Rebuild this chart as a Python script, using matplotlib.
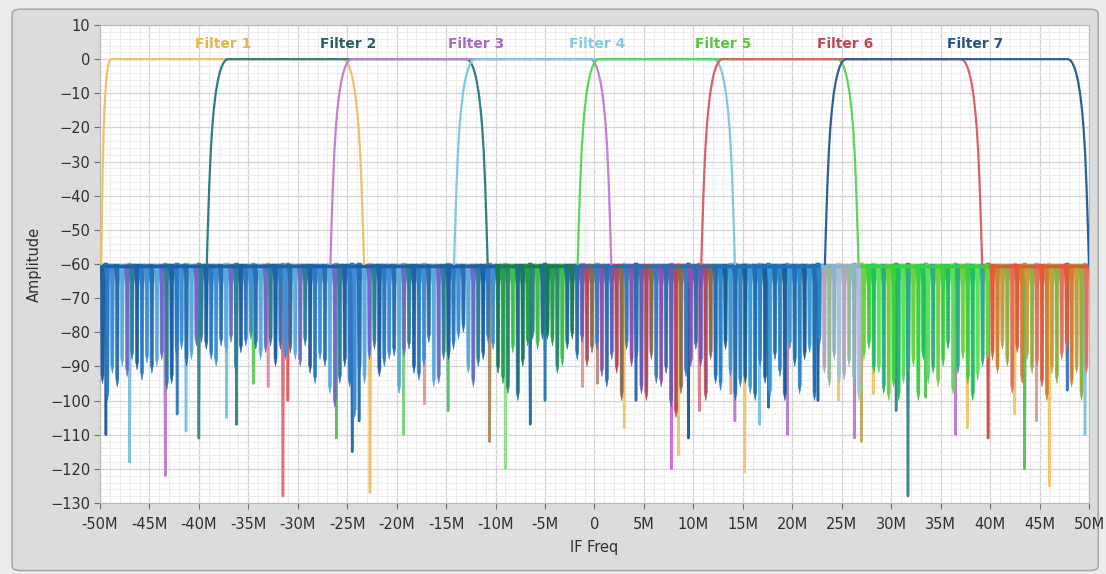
import matplotlib.pyplot as plt
import numpy as np
from matplotlib.patches import FancyBboxPatch
from matplotlib.ticker import MultipleLocator, FuncFormatter

# filters: passband edges in MHz
filter_names = ["Filter 1", "Filter 2", "Filter 3", "Filter 4", "Filter 5", "Filter 6", "Filter 7"]
filter_colors = ["#e9c46a", "#2f7f80", "#c47fd6", "#7fc9e2", "#5ad65a", "#d9606c", "#2b5f9b"]
label_colors = ["#e2b84e", "#2a5f60", "#a868c4", "#86cbe2", "#5cc43e", "#c04656", "#2c5282"]
pass_lo = [-49.1, -37.5, -25.0, -12.5, 0.0, 12.5, 25.0]
pass_hi = [-25.0, -12.5, 0.0, 12.5, 25.0, 37.5, 48.3]
lo_width = [0.45, 1, 1, 1, 1, 1, 1]
label_x = [-37.5, -24.9, -12.0, 0.3, 13.0, 25.3, 38.5]

# transition shape outside a band edge (MHz beyond edge -> dB)
edge_offset = [-0.4, -0.2, 0.0, 0.2, 0.4, 0.6, 0.8, 1.0, 1.15, 1.3, 1.45, 1.6, 1.7]
edge_db = [0, -0.3, -1, -2.2, -4, -6.5, -10, -15, -20, -27, -37, -50, -60]

# stopband notches (clipped at -60 dB), two per MHz from -49.75M
main_depths = [
    -95, -100, -92, -96, -90, -93, -88, -91, -94, -89,
    -92, -90, -88, -97, -95, -87, -85, -90, -88, -84,
    -83, -85, -88, -90, -84, -86, -83, -92, -86, -84,
    -82, -85, -88, -86, -84, -90, -85, -88, -86, -88,
    -90, -84, -92, -95, -88, -90, -98, -102, -95, -90,
    -96, -105, -92, -95, -88, -85, -93, -90, -88, -87,
    -98, -87, -85, -92, -94, -90, -83, -96, -95, -88,
    -88, -85, -82, -80, -92, -96, -90, -88, -83, -85,
    -92, -95, -98, -86, -100, -90, -84, -82, -85, -82,
    -82, -84, -92, -90, -85, -82, -88, -83, -90, -86,
    -85, -93, -96, -88, -92, -100, -85, -90, -88, -98,
    -100, -88, -95, -96, -92, -102, -105, -98, -93, -90,
    -85, -90, -100, -88, -95, -97, -85, -93, -100, -96,
    -95, -98, -100, -90, -95, -99, -88, -93, -100, -85,
    -90, -98, -88, -86, -100, -84, -92, -96, -88, -95,
    -94, -90, -95, -100, -88, -85, -92, -92, -98, -100,
    -96, -100, -95, -92, -90, -100, -88, -95, -92, -96,
    -90, -85, -98, -92, -88, -95, -100, -94, -90, -88,
    -88, -92, -85, -90, -98, -86, -95, -88, -92, -90,
    -96, -100, -92, -95, -88, -85, -96, -92, -100, -92,
]

band_edges = [-50, -10, -2, 12, 23, 27, 40, 50]
band_palettes = [
    ["#1f5fa5", "#2b7bc4", "#3f8fd6", "#2a6fb0", "#5aaade", "#6c6cc8", "#2a7f9a"],
    ["#1a7a5a", "#22a04a", "#2a8a70", "#3cc04a", "#1f6f8f"],
    ["#2a6fb0", "#6a5ab8", "#b04a60", "#8a6a50", "#3a7ac0", "#9050b0"],
    ["#1f6fb5", "#2b85c8", "#1a5f9a", "#3a9ad8"],
    ["#8fb0cc", "#a4c4d4", "#b4a4c4", "#94bc94"],
    ["#3ad040", "#20c060", "#5ae05a", "#28b080", "#70d040"],
    ["#e05a3a", "#d08030", "#c0a040", "#90b040", "#e07060"],
]

# deeper isolated notches: (MHz, dB, colour)
spikes = [
    (-49.4, -110, "#2a5f9e"), (-47.0, -118, "#7fc4e0"), (-43.4, -122, "#c080d0"),
    (-42.2, -104, "#3a7ac0"), (-41.3, -109, "#7fc4e0"), (-40.0, -111, "#3d8a8a"),
    (-37.2, -105, "#7fc4e0"), (-36.2, -107, "#3d8a8a"), (-34.5, -95, "#60d060"),
    (-33.0, -96, "#e090a0"), (-31.5, -128, "#e07080"), (-31.0, -100, "#e06060"),
    (-26.1, -111, "#60c060"), (-24.5, -115, "#2a6fb0"), (-23.8, -106, "#2a6fb0"),
    (-22.7, -127, "#f0c060"), (-19.3, -110, "#80d080"), (-17.2, -101, "#e0a0a0"),
    (-14.8, -103, "#60c070"), (-10.6, -112, "#b09060"), (-9.0, -120, "#90e090"),
    (-6.5, -107, "#2a6fb0"), (-5.0, -100, "#2a7fb0"), (-1.2, -96, "#e0a0a0"),
    (0.3, -95, "#c09080"), (3.0, -108, "#f0c870"), (4.2, -100, "#2a6fb0"),
    (7.8, -120, "#d070d0"), (8.5, -116, "#f0c870"), (9.5, -111, "#2a5f9e"),
    (10.6, -103, "#e08090"), (13.8, -98, "#e0a0a0"), (14.2, -106, "#c080d0"),
    (15.2, -121, "#f0c870"), (16.7, -107, "#7fc4e0"), (17.6, -102, "#2a6fb0"),
    (19.5, -110, "#c080d0"), (22.6, -100, "#2a5f9e"), (24.7, -100, "#f0c870"),
    (26.3, -111, "#c080d0"), (27.0, -112, "#c0b060"), (28.2, -98, "#f0c870"),
    (30.5, -103, "#3d8a8a"), (31.7, -128, "#3d8a8a"), (33.5, -99, "#60c060"),
    (36.5, -110, "#c080d0"), (37.7, -108, "#f0c870"), (39.8, -111, "#d05050"),
    (42.5, -104, "#f0c870"), (43.5, -120, "#60c060"), (44.7, -106, "#e0a0a0"),
    (46.0, -125, "#f0c870"), (47.8, -97, "#3a7ac0"), (49.6, -110, "#7fc4e0"),
]

fig = plt.figure(figsize=(11.06, 5.74), dpi=100)
fig.patch.set_facecolor("#ececec")
panel = FancyBboxPatch((0.011, 0.006), 0.982, 0.978, transform=fig.transFigure,
                       boxstyle="round,pad=0,rounding_size=0.008",
                       facecolor="#dcdcdc", edgecolor="#a9a9a9", lw=1.2, zorder=-10)
fig.patches.append(panel)

ax = fig.add_axes([0.0904, 0.1237, 0.8942, 0.8327])
ax.set_zorder(1)
ax.set_facecolor("white")

# stopband: deep spikes first, dense notch band over them
for x, d, c in spikes:
    ax.plot([x - 0.1, x, x + 0.1], [-60, d, -60], color=c, lw=1.8, zorder=2)

dip_x = np.linspace(-49.75, 49.75, len(main_depths))
for j, (x, d) in enumerate(zip(dip_x, main_depths)):
    k = min(np.searchsorted(band_edges, x) - 1, len(band_palettes) - 1)
    pal = band_palettes[k]
    c = pal[j % len(pal)]
    px = [x - 0.3, x - 0.19, x - 0.15, x, x + 0.15, x + 0.19, x + 0.3]
    py = [-60, -66, d + 2.5, d, d + 2.5, -66, -60]
    ax.fill(px, py, color=c, lw=0.4, ec=c, zorder=3)

for k in range(len(band_palettes)):
    ax.plot([band_edges[k], band_edges[k + 1]], [-60.6, -60.6],
            color=band_palettes[k][0], lw=2.5, zorder=3)

# passbands
off = np.array(edge_offset)
db = np.array(edge_db)
for i in range(len(filter_names)):
    xs = np.concatenate([pass_lo[i] - lo_width[i] * off[::-1], pass_hi[i] + off])
    ys = np.concatenate([db[::-1], db])
    ax.plot(xs, ys, color=filter_colors[i], lw=1.6, zorder=4)
    ax.text(label_x[i], 4.3, filter_names[i], color=label_colors[i], fontsize=10,
            fontweight="bold", ha="center", va="center", zorder=5)

ax.set_xlim(-50, 50)
ax.set_ylim(-130, 10)
ax.xaxis.set_major_locator(MultipleLocator(5))
ax.xaxis.set_minor_locator(MultipleLocator(1))
ax.yaxis.set_major_locator(MultipleLocator(10))
ax.yaxis.set_minor_locator(MultipleLocator(2))
ax.xaxis.set_major_formatter(FuncFormatter(lambda v, p: "0" if abs(v) < 1e-9 else f"{v:.0f}M"))
ax.grid(which="major", color="#d4d4d4", lw=0.9, zorder=0)
ax.grid(which="minor", color="#ededed", lw=0.7, zorder=0)
ax.set_axisbelow(True)
ax.tick_params(which="minor", length=0)
ax.tick_params(which="major", length=4, color="#707070", labelsize=10.5,
               labelcolor="#303030")
ax.tick_params(axis="x", pad=6)
ax.tick_params(axis="y", pad=3)
for s in ax.spines.values():
    s.set_color("#b8b8b8")

ax.set_xlabel("IF Freq", fontsize=10.5, color="#303030", labelpad=6)
ax.set_ylabel("Amplitude", fontsize=10.5, color="#303030", labelpad=6)

fig.savefig("out.png", dpi=100, facecolor=fig.get_facecolor())
